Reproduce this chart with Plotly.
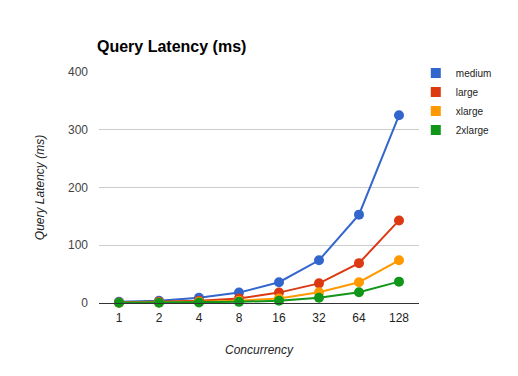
import plotly.graph_objects as go

categories = ["1", "2", "4", "8", "16", "32", "64", "128"]
medium = [2, 4, 9, 18, 36, 74, 153, 325]
large = [1, 2, 4, 8, 18, 34, 69, 143]
xlarge = [0.5, 1, 2, 4, 8, 18.5, 36, 74]
xxlarge = [0.3, 0.5, 1, 2, 4, 9, 18.5, 37]
series_names = ["medium", "large", "xlarge", "2xlarge"]
colors = ["#3366cc", "#dc3912", "#ff9900", "#109618"]

fig = go.Figure()
for name, vals, col in zip(series_names, [medium, large, xlarge, xxlarge], colors):
    fig.add_trace(go.Scatter(
        x=categories, y=vals, mode="lines+markers", name=name,
        line=dict(color=col, width=2), marker=dict(color=col, size=10),
        showlegend=False, cliponaxis=False))
for name, col in zip(series_names, colors):
    fig.add_trace(go.Scatter(
        x=[None], y=[None], mode="markers", name=name,
        marker=dict(color=col, size=10, symbol="square"), showlegend=True))

fig.update_layout(
    width=510, height=368,
    margin=dict(l=91, r=99, t=64, b=73, autoexpand=False),
    paper_bgcolor="white", plot_bgcolor="white",
    font=dict(family="Liberation Sans, Arial, sans-serif", size=11, color="#222"),
    title=dict(text="<b>Query Latency (ms)</b>", x=89/510, xanchor="left",
               xref="container", yref="container",
               y=1 - 38/368, yanchor="middle", pad=dict(l=0, t=0, b=0, r=0),
               font=dict(size=16, color="black")),
    legend=dict(x=0.99, xanchor="left", y=1.058, yanchor="top",
                font=dict(size=10, color="#222"), tracegroupgap=0,
                itemwidth=30, bgcolor="rgba(0,0,0,0)"),
    xaxis=dict(type="category", range=[-0.5, 7.5], showgrid=False, showline=True,
               linecolor="#333", linewidth=1, ticks="", ticklabelstandoff=4,
               tickfont=dict(size=12, color="#222"),
               title=dict(text="<i>Concurrency</i>", font=dict(size=12, color="#222"),
                          standoff=21)),
    yaxis=dict(range=[0, 400], dtick=100, showgrid=True, gridcolor="#cccccc",
               zeroline=False, showline=False, ticks="", ticklabelstandoff=10,
               tickfont=dict(size=12, color="#444"),
               title=dict(text="<i>Query Latency (ms)</i>", font=dict(size=12, color="#222"),
                          standoff=20)),
)
fig.write_html("out.html")
